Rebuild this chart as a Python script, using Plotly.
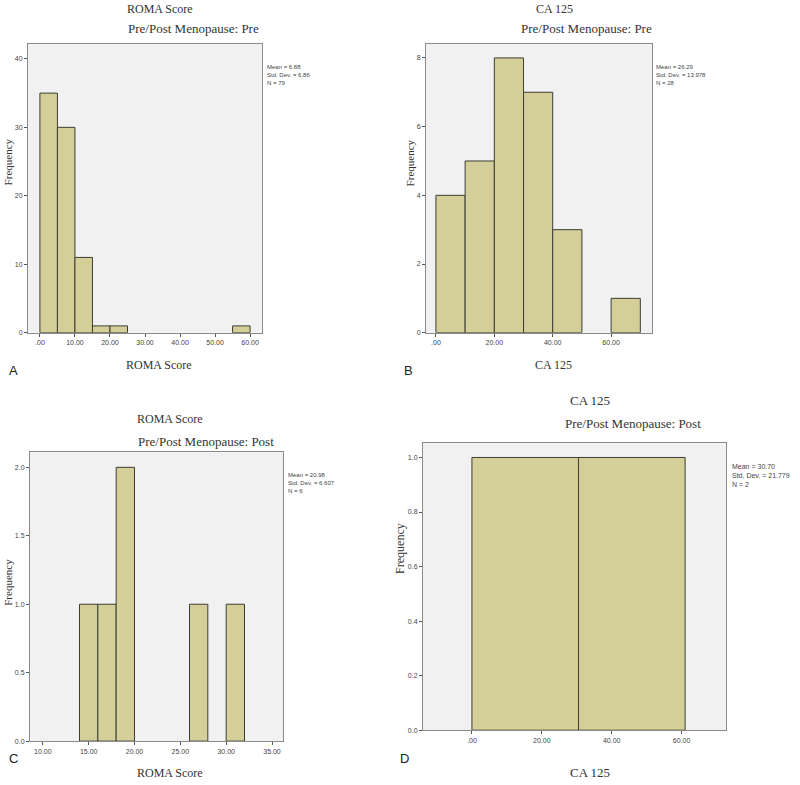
import plotly.graph_objects as go

# ---- data ----
# Panel A: ROMA Score, Pre
a_edges = [0, 5, 10, 15, 20, 25, 30, 35, 40, 45, 50, 55, 60]
a_counts = [35, 30, 11, 1, 1, 0, 0, 0, 0, 0, 0, 1]
a_ticks = [0, 10, 20, 30, 40, 50, 60]
a_ticktext = [".00", "10.00", "20.00", "30.00", "40.00", "50.00", "60.00"]
a_yticks = [0, 10, 20, 30, 40]
a_stats = "Mean = 6.88<br>Std. Dev. = 6.86<br>N = 79"

# Panel B: CA 125, Pre
b_edges = [0, 10, 20, 30, 40, 50, 60, 70]
b_counts = [4, 5, 8, 7, 3, 0, 1]
b_ticks = [0, 20, 40, 60]
b_ticktext = [".00", "20.00", "40.00", "60.00"]
b_yticks = [0, 2, 4, 6, 8]
b_stats = "Mean = 26.29<br>Std. Dev. = 13.978<br>N = 28"

# Panel C: ROMA Score, Post
c_edges = [14, 16, 18, 20, 22, 24, 26, 28, 30, 32]
c_counts = [1, 1, 2, 0, 0, 0, 1, 0, 1]
c_ticks = [10, 15, 20, 25, 30, 35]
c_ticktext = ["10.00", "15.00", "20.00", "25.00", "30.00", "35.00"]
c_yticks = [0, 0.5, 1.0, 1.5, 2.0]
c_yticktext = ["0.0", "0.5", "1.0", "1.5", "2.0"]
c_stats = "Mean = 20.98<br>Std. Dev. = 6.607<br>N = 6"

# Panel D: CA 125, Post
d_edges = [0, 30.5, 61]
d_counts = [1, 1]
d_ticks = [0, 20, 40, 60]
d_ticktext = [".00", "20.00", "40.00", "60.00"]
d_yticks = [0, 0.2, 0.4, 0.6, 0.8, 1.0]
d_yticktext = ["0.0", "0.2", "0.4", "0.6", "0.8", "1.0"]
d_stats = "Mean = 30.70<br>Std. Dev. = 21.779<br>N = 2"

W, H = 800, 785
BAR_FILL = "#D4CF98"
BAR_LINE = "#3d3d33"
BG = "#F1F1F1"
FRAME = "#8a8a8a"
SERIF = "Liberation Serif"
SANS = "Liberation Sans Narrow, Liberation Sans, Arial"

def px(x):
    return x / W

def py(y):
    return 1 - y / H

panels = [
    dict(edges=a_edges, counts=a_counts, ticks=a_ticks, ticktext=a_ticktext,
         yticks=a_yticks, yticktext=[str(v) for v in a_yticks],
         xr=[-3.4, 63.4], yr=[0, 42.2], box=(28, 262, 44, 334)),
    dict(edges=b_edges, counts=b_counts, ticks=b_ticks, ticktext=b_ticktext,
         yticks=b_yticks, yticktext=[str(v) for v in b_yticks],
         xr=[-3.4, 74], yr=[0, 8.41], box=(426, 652, 44, 334)),
    dict(edges=c_edges, counts=c_counts, ticks=c_ticks, ticktext=c_ticktext,
         yticks=c_yticks, yticktext=c_yticktext,
         xr=[8.6, 36.2], yr=[0, 2.11], box=(30, 283, 454, 744)),
    dict(edges=d_edges, counts=d_counts, ticks=d_ticks, ticktext=d_ticktext,
         yticks=d_yticks, yticktext=d_yticktext,
         xr=[-14, 72.7], yr=[0, 1.052], box=(423, 726, 445, 733)),
]

fig = go.Figure()
layout = dict(width=W, height=H, margin=dict(l=0, r=0, t=0, b=0),
              paper_bgcolor="white", plot_bgcolor=BG, showlegend=False)

for i, p in enumerate(panels):
    n = "" if i == 0 else str(i + 1)
    edges, counts = p["edges"], p["counts"]
    idx = [k for k in range(len(counts)) if counts[k] > 0]
    centers = [(edges[k] + edges[k + 1]) / 2 for k in idx]
    widths = [edges[k + 1] - edges[k] for k in idx]
    heights = [counts[k] for k in idx]
    fig.add_trace(go.Bar(
        x=centers, y=heights, width=widths,
        marker=dict(color=BAR_FILL, line=dict(color=BAR_LINE, width=1)),
        xaxis="x" + n, yaxis="y" + n, hoverinfo="x+y"))
    x0, x1, y0, y1 = p["box"]
    layout["xaxis" + n] = dict(
        domain=[px(x0), px(x1)], range=p["xr"], anchor="y" + n,
        tickvals=p["ticks"], ticktext=p["ticktext"], ticks="outside",
        ticklen=3, tickcolor="#555", showgrid=False, zeroline=False,
        showline=True, linecolor=FRAME, mirror=True,
        tickfont=dict(family=SANS, size=7, color="#444"))
    layout["yaxis" + n] = dict(
        domain=[py(y1), py(y0)], range=p["yr"], anchor="x" + n,
        tickvals=p["yticks"], ticktext=p["yticktext"], ticks="outside",
        ticklen=3, tickcolor="#555", showgrid=False, zeroline=False,
        showline=True, linecolor=FRAME, mirror=True,
        tickfont=dict(family=SANS, size=7, color="#444"))

fig.update_layout(**layout)

annotations = []

def txt(x, y, s, size=13, family=SERIF, color="#333", xanchor="center",
        yanchor="middle", angle=0, align="center"):
    annotations.append(dict(x=px(x), y=py(y), xref="paper", yref="paper",
                            text=s, showarrow=False, xanchor=xanchor,
                            yanchor=yanchor, textangle=angle, align=align,
                            font=dict(family=family, size=size, color=color)))

# Panel A texts
txt(160, 9, "ROMA Score", 12)
txt(193, 29, "Pre/Post Menopause: Pre", 13)
txt(265, 62, a_stats, 6, SANS, "#444", "left", "top", align="left")
txt(8, 163, "Frequency", 11, angle=-90)
txt(159, 366, "ROMA Score", 12)
txt(13, 372, "A", 13, "Liberation Sans", "#222")

# Panel B texts
txt(554, 9, "CA 125", 12)
txt(586, 29, "Pre/Post Menopause: Pre", 13)
txt(654, 62, b_stats, 6, SANS, "#444", "left", "top", align="left")
txt(410, 163, "Frequency", 11, angle=-90)
txt(553, 366, "CA 125", 12)
txt(408, 372, "B", 13, "Liberation Sans", "#222")

# Panel C texts
txt(170, 421, "ROMA Score", 12)
txt(206, 443, "Pre/Post Menopause: Post", 13)
txt(286, 472, c_stats, 6, SANS, "#444", "left", "top", align="left")
txt(8, 585, "Frequency", 11, angle=-90)
txt(170, 776, "ROMA Score", 12)
txt(13, 761, "C", 13, "Liberation Sans", "#222")

# Panel D texts
txt(590, 402, "CA 125", 13)
txt(633, 425, "Pre/Post Menopause: Post", 13)
txt(730, 463, d_stats, 7, SANS, "#444", "left", "top", align="left")
txt(400, 551, "Frequency", 12, angle=-90)
txt(590, 775, "CA 125", 13)
txt(404, 761, "D", 13, "Liberation Sans", "#222")

fig.update_layout(annotations=annotations)
fig.write_html(
    "out.html",
    config={"displayModeBar": False},
    post_script="document.body.style.margin='0';document.body.style.overflow='hidden';",
)
